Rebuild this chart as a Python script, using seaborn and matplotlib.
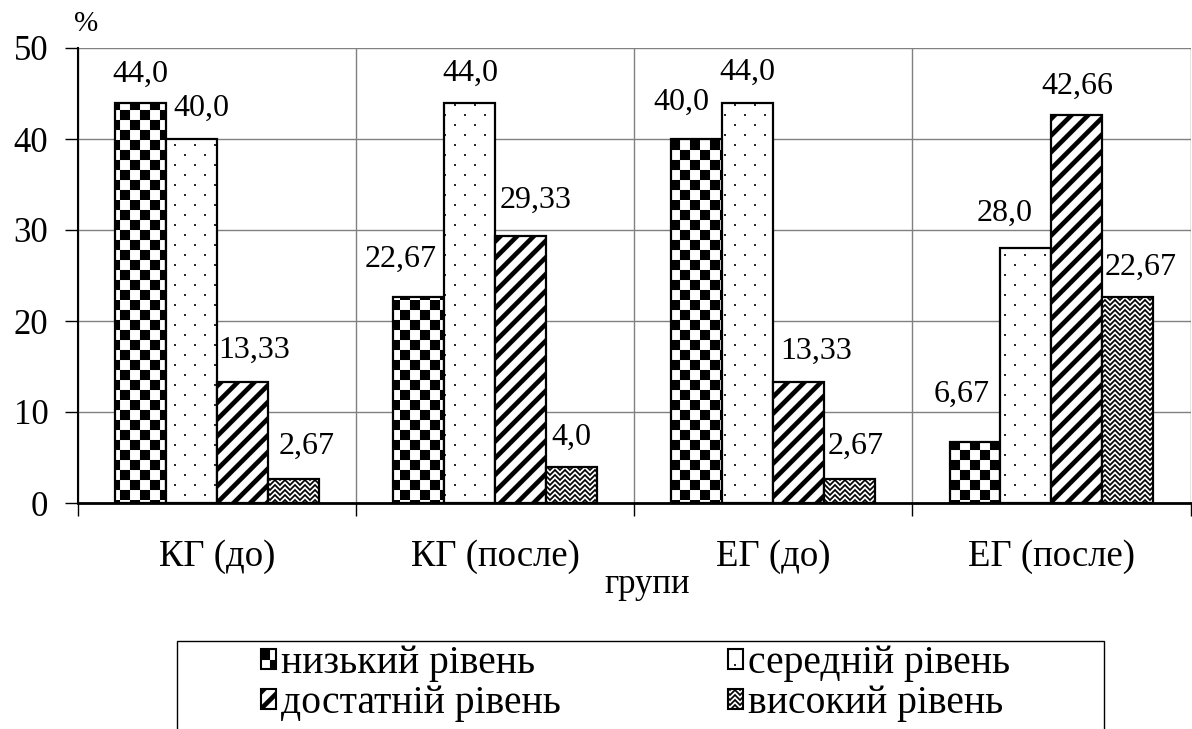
import warnings
import numpy as np
import pandas as pd
import matplotlib
matplotlib.use("Agg")
import matplotlib.pyplot as plt
import matplotlib.hatch as mhatch
from matplotlib.path import Path
from matplotlib.patches import Patch, Rectangle
from matplotlib.ticker import FixedLocator
import seaborn as sns

warnings.filterwarnings("ignore")

# ---------------- data ----------------
groups = ["КГ (до)", "КГ (после)", "ЕГ (до)", "ЕГ (после)"]
levels = ["низький рівень", "середній рівень", "достатній рівень", "високий рівень"]
low = [44.0, 22.67, 40.0, 6.67]
medium = [40.0, 44.0, 44.0, 28.0]
sufficient = [13.33, 29.33, 13.33, 42.66]
high = [2.67, 4.0, 2.67, 22.67]
y_ticks = [0, 10, 20, 30, 40, 50]
x_title = "групи"
y_unit = "%"

# data-label nudges in pixels (per level, per group), relative to bar top centre
label_dx = [[0, -18, -15, -13], [10, 1, 0, -21], [12, 15, 17, 0], [13, 0, 6, 13]]
label_dy = [[21, 30, 29, 40], [23, 22, 23, 27], [24, 28, 23, 21], [25, 22, 25, 22]]


# ---------------- custom fill patterns ----------------
class _ShapeHatch(mhatch.HatchPatternBase):
    key = "?"

    def __init__(self, hatch, density):
        self.polys = self.build() if (hatch and self.key in hatch) else []
        self.num_vertices = sum(len(p) + 1 for p in self.polys)

    def build(self):
        return []

    def set_vertices_and_codes(self, vertices, codes):
        i = 0
        for p in self.polys:
            n = len(p)
            vertices[i:i + n] = p
            vertices[i + n] = p[0]
            codes[i] = Path.MOVETO
            codes[i + 1:i + n] = Path.LINETO
            codes[i + n] = Path.CLOSEPOLY
            i += n + 1


class CheckerHatch(_ShapeHatch):
    key = "c"

    def build(self):
        n = 10
        s = 1.0 / n
        out = []
        for i in range(n):
            for j in range(n):
                if (i + j) % 2 == 0:
                    x, y = i * s, j * s
                    out.append(np.array([[x, y], [x + s, y], [x + s, y + s], [x, y + s]]))
        return out


class DotHatch(_ShapeHatch):
    key = "d"

    def build(self):
        r = 0.009
        out = []
        for j in range(10):
            y = j * 0.1 + 0.05
            for x in np.arange(0, 1, 0.2) + (0.1 if j % 2 else 0.0) + 0.05:
                out.append(np.array([[x - r, y - r], [x + r, y - r], [x + r, y + r], [x - r, y + r]]))
        return out


class StripeHatch(_ShapeHatch):
    key = "s"

    def build(self):
        w = 0.065
        out = []
        for k in range(-8, 9):
            c = k / 6.0
            out.append(np.array([[-0.3, -0.3 + c], [1.3, 1.3 + c],
                                 [1.3 + w, 1.3 + c], [-0.3 + w, -0.3 + c]]))
        return out


class ZigzagHatch(_ShapeHatch):
    key = "z"

    def build(self):
        t = 0.024
        out = []
        for j in range(-1, 21):
            y0 = j * 0.05
            for i in range(-1, 11):
                x0 = i * 0.1
                pts = [(x0, y0), (x0 + 0.05, y0 + 0.05), (x0 + 0.1, y0)]
                for (xa, ya), (xb, yb) in zip(pts[:-1], pts[1:]):
                    out.append(np.array([[xa, ya - t / 2], [xb, yb - t / 2],
                                         [xb, yb + t / 2], [xa, ya + t / 2]]))
        return out


mhatch._hatch_types.extend([CheckerHatch, DotHatch, StripeHatch, ZigzagHatch])
mhatch._validate_hatch_pattern = lambda h: None
hatches = ["c", "d", "s", "z"]

# ---------------- style ----------------
plt.rcParams["font.family"] = ["Liberation Serif", "DejaVu Serif"]
plt.rcParams["hatch.linewidth"] = 0.05
plt.rcParams["hatch.color"] = "black"

W, H = 1192, 729
fig = plt.figure(figsize=(W / 100, H / 100), dpi=100)
ax = fig.add_axes([78 / W, (H - 503) / H, (1190.5 - 78) / W, (503 - 48) / H])

rows = []
for lvl, vals in zip(levels, [low, medium, sufficient, high]):
    for g, v in zip(groups, vals):
        rows.append({"група": g, "рівень": lvl, "значення": v})
df = pd.DataFrame(rows)

sns.barplot(data=df, x="група", y="значення", hue="рівень", order=groups,
            hue_order=levels, palette={l: "white" for l in levels}, saturation=1,
            width=0.733, gap=0, edgecolor="black", linewidth=1.6, legend=False,
            errorbar=None, ax=ax)

for li, (cont, h) in enumerate(zip(ax.containers, hatches)):
    for gi, bar in enumerate(cont):
        bar.set_hatch(h)
        bar.set_zorder(3)
        v = bar.get_height()
        txt = (f"{v:.1f}" if float(v).is_integer() else f"{v:.2f}").replace(".", ",")
        ax.annotate(txt, xy=(bar.get_x() + bar.get_width() / 2, v),
                    xytext=(label_dx[li][gi] * 0.72, label_dy[li][gi] * 0.72),
                    textcoords="offset points", ha="center", va="baseline",
                    fontsize=23, color="black", zorder=4)

ax.set_xlim(-0.5, 3.5)
ax.set_ylim(0, 50)
ax.set_yticks(y_ticks)
ax.set_yticklabels([str(t) for t in y_ticks])
ax.xaxis.set_minor_locator(FixedLocator([-0.5, 0.5, 1.5, 2.5, 3.5]))
ax.set_axisbelow(True)
ax.grid(axis="y", which="major", color="#808080", linewidth=1.0)
ax.grid(axis="x", which="minor", color="#808080", linewidth=1.0)
ax.grid(axis="x", which="major", visible=False)
ax.tick_params(axis="x", which="major", length=0, pad=26, labelsize=26.5, colors="black")
ax.tick_params(axis="x", which="minor", length=9, width=1, color="black", direction="out")
ax.tick_params(axis="y", which="major", length=9.4, width=1, color="black",
               direction="out", pad=12, labelsize=25)
ax.set_xlabel("")
ax.set_ylabel("")
for s in ["top", "right"]:
    ax.spines[s].set_visible(False)
ax.spines["left"].set_color("black")
ax.spines["left"].set_linewidth(1.5)
ax.spines["bottom"].set_color("black")
ax.spines["bottom"].set_linewidth(2.0)

fig.text(86 / W, 1 - 24 / H, y_unit, ha="center", va="center", fontsize=21)
fig.text(647 / W, 1 - 593 / H, x_title, ha="center", va="baseline", fontsize=25)

# legend frame (runs off the bottom of the image, as in the reference)
fig.add_artist(Rectangle((177 / W, -0.1), (1104 - 177) / W, (H - 641) / H + 0.1,
                         transform=fig.transFigure, fill=False, edgecolor="black",
                         linewidth=1.0))

handles = [Patch(facecolor="white", edgecolor="black", hatch=h, linewidth=1.5) for h in hatches]
fs = 28.5
fs_px = fs * 100 / 72
common = dict(loc="upper left", frameon=False,
              prop={"family": ["Liberation Serif"], "size": fs},
              borderpad=0, borderaxespad=0, handlelength=15 / fs_px,
              handleheight=15 / fs_px, handletextpad=5 / fs_px,
              labelspacing=0.08)
fig.legend([handles[0], handles[2]], [levels[0], levels[2]],
           bbox_to_anchor=(261 / W, 1 - 645 / H), **common)
fig.legend([handles[1], handles[3]], [levels[1], levels[3]],
           bbox_to_anchor=(728 / W, 1 - 645 / H), **common)

fig.savefig("out.png", dpi=100)
